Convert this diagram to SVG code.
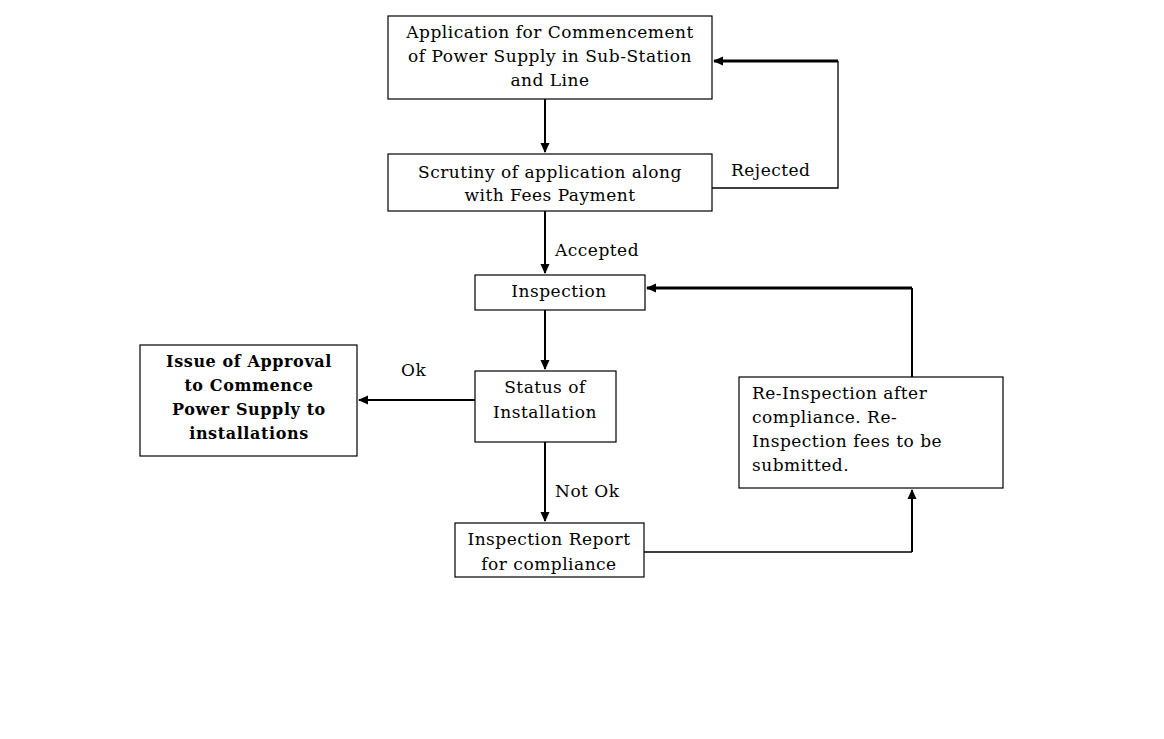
<svg xmlns="http://www.w3.org/2000/svg" width="1164" height="739" viewBox="0 0 1164 739">
<defs>
<marker id="ah" markerWidth="10" markerHeight="10" refX="9" refY="5" orient="auto" markerUnits="userSpaceOnUse">
<path d="M0,0.5 L10,5 L0,9.5 Z" fill="#000"/>
</marker>
<style>
.box{fill:#fff;stroke:#000;stroke-width:1.2}
.t{font-family:"DejaVu Serif","Liberation Serif",serif;font-size:17px;letter-spacing:0.5px;fill:#000;text-anchor:middle}
.l{text-anchor:start}
.b{font-weight:bold;font-size:16px;letter-spacing:0.6px}
.c{fill:none;stroke:#000;stroke-width:2}
.th{stroke-width:3}
.thin{stroke-width:1.3}
</style>
</defs>
<rect width="1164" height="739" fill="#fff"/>
<g id="connectors">
<path class="c" d="M545,99 V152" marker-end="url(#ah)"/>
<path class="c thin" d="M712,188 H838 V61"/>
<path class="c th" d="M838,61 H714" marker-end="url(#ah)"/>
<path class="c" d="M545,211 V273" marker-end="url(#ah)"/>
<path class="c" d="M545,310 V369" marker-end="url(#ah)"/>
<path class="c" d="M475,400 H359" marker-end="url(#ah)"/>
<path class="c" d="M545,442 V521" marker-end="url(#ah)"/>
<path class="c thin" d="M644,552 H912"/>
<path class="c" d="M912,552 V490" marker-end="url(#ah)"/>
<path class="c" d="M912,377 V288"/>
<path class="c th" d="M912,288 H647" marker-end="url(#ah)"/>
<text class="t l" x="731" y="176">Rejected</text>
<text class="t l" x="555" y="256">Accepted</text>
<text class="t l" x="401" y="376">Ok</text>
<text class="t l" x="555" y="497">Not Ok</text>
</g>
<g id="n1">
<rect class="box" x="388" y="16" width="324" height="83"/>
<text class="t" x="550" y="38">Application for Commencement</text>
<text class="t" x="550" y="62">of Power Supply in Sub-Station</text>
<text class="t" x="550" y="86">and Line</text>
</g>
<g id="n2">
<rect class="box" x="388" y="154" width="324" height="57"/>
<text class="t" x="550" y="178">Scrutiny of application along</text>
<text class="t" x="550" y="201">with Fees Payment</text>
</g>
<g id="n3">
<rect class="box" x="475" y="275" width="170" height="35"/>
<text class="t" x="559" y="297">Inspection</text>
</g>
<g id="n4">
<rect class="box" x="475" y="371" width="141" height="71"/>
<text class="t" x="545" y="393">Status of</text>
<text class="t" x="545" y="418">Installation</text>
</g>
<g id="n5">
<rect class="box" x="140" y="345" width="217" height="111"/>
<text class="t b" x="249" y="367">Issue of Approval</text>
<text class="t b" x="249" y="391">to Commence</text>
<text class="t b" x="249" y="415">Power Supply to</text>
<text class="t b" x="249" y="439">installations</text>
</g>
<g id="n6">
<rect class="box" x="455" y="523" width="189" height="54"/>
<text class="t" x="549" y="545">Inspection Report</text>
<text class="t" x="549" y="570">for compliance</text>
</g>
<g id="n7">
<rect class="box" x="739" y="377" width="264" height="111"/>
<text class="t l" x="752" y="399">Re-Inspection after</text>
<text class="t l" x="752" y="423">compliance. Re-</text>
<text class="t l" x="752" y="447">Inspection fees to be</text>
<text class="t l" x="752" y="471">submitted.</text>
</g>
</svg>
